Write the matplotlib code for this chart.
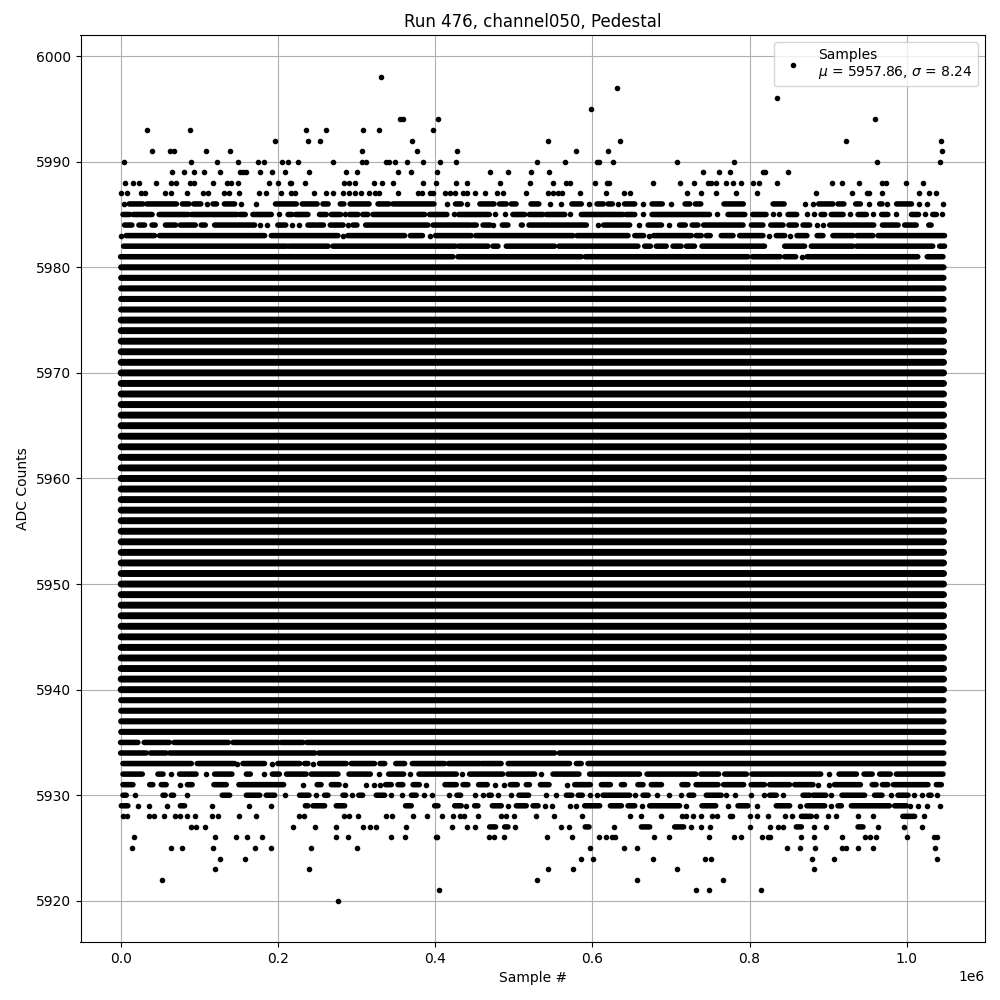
import matplotlib
matplotlib.use("Agg")
import matplotlib.pyplot as plt

TITLE = "Run 476, channel050, Pedestal"
XLABEL = "Sample #"
YLABEL = "ADC Counts"
LEGEND_LABEL = "Samples\n$\\mu$ = 5957.86, $\\sigma$ = 8.24"

# Each row: sample positions in thousands; a tuple is a stretch of samples too dense to separate.
row_5998 = [331]
row_5997 = [631.4]
row_5996 = [835]
row_5995 = [598]
row_5994 = [355, 359, 404, 959.6]
row_5993 = [33.5, 88, 236, 261, 308, 329, 397]
row_5992 = [196, 238, 254, 371, 544, 635, 923, 1043.5]
row_5991 = [40, 63, 67.5, 109, 139, 307, 377, 428, 579, 620, 1045]
row_5990 = [4, 90, 123, 149, 175, 182, 205, 213, 226, 270, 307, 312, 338, 342, 349, 364, 385, 406, 427,
            530, 565, 606, 609, 626, 708, 780, 962, 1042]
row_5989 = [65, 81, 93, 106, 126, 152, 156, 160, 177, 193, 209, 240, 287, 301, 353, 369, 402, 470, 493,
            522, 545, 741, 761, 775, 817, 820, 849]
row_5988 = [5.5, 16, 23.3, 45, 64, 70.4, 88, 93, 117.5, 135, 140, 149, 189, 200, 215, 217, 234.5, 284, 290.5,
            298, 322, 332.5, 346.5, 385, 401, 427, 441, 483, 521, 550, 566.5, 571.6, 603, 619, 621, 677, 711.5,
            729, 747, 751, 757, 770, 779, 789, 804, 812, 835, 905, 918, 939, 968, 974, 999, 1021]
row_5987 = [0.5, 8, 26, 31, 56.5, 64, 84, 105, 111, 132, 138, 151, 176, 184.5, 204, 217, 222, 246, 261, 270,
            283, 291, 298, 306, 316, 324, 329, 353, 378, 383, 393, 397, 413, 419, 425, 436, 440, 451, 463, 479,
            486, 516, 544, 550, 556, 561, 584, 617, 640, 648, 720, 738, 757, 783, 809.5, 884.5, 930, 949, 952,
            968, 1015.5, 1028, 1037.6]
row_5986 = [4, (11, 28.4), (33.5, 71), (78.5, 87), (93, 102), 110, (117.5, 122), (132, 145), 153, 172,
            (197, 223.5), (231, 250), (257.4, 264), (279.4, 284), (292, 316), (327.4, 341.3), (346.4, 398.6), 415,
            (426, 433.3), 440, (457, 475), (482, 490.6), (497, 503), (522, 532), 546, 560, (574, 586), 596,
            (606, 614), (620, 625.5), 633, (641, 654), 664, (676, 689), 700, (718, 724), (731, 738), (767.5, 792),
            (830, 844), 870.5, 881, (888, 906), (912.5, 920), (935, 941), 952, (965.5, 968.5), 975, (987, 1006),
            1015.5, 1026, 1046]
row_5985 = [(3, 11.5), (16, 40), (49, 86), (90, 148), (151.5, 158.6), (168.3, 191.7), 201.4, (213, 218),
            (222.6, 238.3), (253, 261.6), (268, 280), 286, (291.3, 302), (308, 314.6), (321, 386.8), (393, 415),
            423.6, (430, 469), 476.6, 488.5, (499, 514), (520, 537), (541.5, 565), 571, (586, 639), (643, 654),
            664.5, (676, 749), 758, (772.6, 794), (804, 821), 830, 837, (849, 860), 873, 882, (891, 895.6),
            (904, 919), 928, (938, 948.6), 957, (968, 976), 986, (1006, 1015), 1023, (1033, 1037.6), 1045]
row_5984 = [(5, 14.4), (23.3, 30.5), (40, 44), (57, 70), (76, 95), (102.6, 107.7), (119.6, 170.5), 177.7, 186.6,
            (200, 210), 218, 227, (238.3, 258), (266.7, 283), 289, (295.5, 300.6), (311.7, 391), (397.3, 444.8),
            (448, 452.4), (461, 470), 473.6, (485.5, 492.7), (509.7, 511), (519.5, 592.4), 607, (614.4, 647.5), 659,
            (671, 688), 697, (711, 718.3), (727, 734.4), (741.6, 791.7), (802.3, 817), (827, 842.6), (850, 859.5),
            (868, 876.5), 885.8, 893.4, (902, 958), (969, 989), (997.3, 1012), (1028, 1031)]
row_5983 = [0, (7, 43.3), (49.6, 183.2), (191.7, 276.5), 283, (289, 361.3), (368.5, 384), 393, (400.7, 446),
            (451.6, 575.4), (580.5, 645.4), (654, 665.3), 672, (678, 726), (732, 738.7), (745, 750), (764, 779),
            (787.4, 817), 824.8, (834, 844.7), 852, (860.4, 873), (886, 893.4), (906, 931.6), (936.7, 957),
            (963.4, 1048)]
row_5982 = [(3.8, 211), (214.1, 264), (270, 426), (430, 467.3), (473.6, 480), (490.6, 552), (557.6, 658),
            (666.6, 674), (681.4, 694), (702.6, 713), (719.6, 730), (739.5, 819), (844.7, 870), (878.6, 931.6),
            (936, 1033), (1041.8, 1048)]
row_5981 = [(0, 422.7), (429, 586), (591, 798), (803.6, 839), (844.7, 858.7), 867, (873, 1014), (1026, 1046)]

# Rows that are continuous from the first sample to the last.
edge_rows = [5980, 5979, 5978, 5977, 5976, 5939, 5938, 5937, 5936]
core_rows = [5975, 5974, 5973, 5972, 5971, 5970, 5969, 5968, 5967, 5966,
             5965, 5964, 5963, 5962, 5961, 5960, 5959, 5958, 5957, 5956, 5955, 5954, 5953, 5952, 5951,
             5950, 5949, 5948, 5947, 5946, 5945, 5944, 5943, 5942, 5941, 5940]
solid_first = 0.7
solid_last = 1046.8

row_5935 = [(0, 22), (30, 62), (68, 137), (143, 200), (204, 232), (237, 1047)]
row_5934 = [(0, 32.7), (38, 58), (62.4, 247), (252, 552), (558, 1047)]
row_5933 = [(3, 90), (97.5, 145), 148, (155.6, 183), 192, (200, 228), (234, 238.3), 245, (253, 287), (293.4, 323),
            (330, 336), (350, 361.3), (371, 412), (417, 457), (459, 484), (493, 571), (579.7, 586), (594.5, 1047)]
row_5932 = [(3, 27.6), (47.5, 54), 64, (75, 96), 108, (119.6, 141.6), (160, 165), 183, (193, 202), (211, 236),
            (242.5, 276.5), (290.5, 317.6), 328.6, (341, 360), 368.5, (379.5, 427), 434.6, (444, 486), (492.7, 526.7),
            535, (550, 583), (596.6, 660), (669.6, 731.5), (738, 760.7), (768.4, 796), (803, 890.5), 901,
            (913.8, 936), (945.6, 956), (965.5, 979), (986.7, 1046)]
row_5931 = [(3, 15.7), (37, 41), (51.7, 58), 75, (85, 91), (118.7, 134.4), (150.5, 207.4), 232.4, (250, 255),
            (268, 278), 285.4, 312, 322, 329.5, (337, 344.3), (352.8, 359), (372, 380), 388.8, (412.6, 427),
            (435.5, 441.8), (455.4, 466.4), 476.6, 488, (495.7, 504.6), (516, 520), (534, 545), 568, (577.6, 597.5),
            (611.5, 623), (637, 641), (658, 664.5), (675, 688), (714, 721.7), (732, 760), (767, 792.5), (802, 819),
            (825.6, 851), (857.4, 880.7), 887, 901, (908, 941), (956, 961), (969, 976), (983, 1027), (1037.6, 1044)]
row_5930 = [(3, 7.2), 18.7, (53.9, 56.8), (64.5, 67.4), 84.4, (129.3, 138.7), (160, 177), (185.3, 196), 209,
            (227.7, 239.6), 249, (259.5, 263.7), (282.8, 286.2), 294.3, (303, 308), (325.2, 335.8), 344.3, 358,
            (370, 376), 385.9, 396, 417.6, (427.8, 432.5), 450.7, 461, (468.5, 471.5), 480.4, 497, (506.7, 519),
            541.5, 554, (567, 574), (582, 587.3), 597.5, 606, (613.6, 647.5), 654, (664.5, 671), 682, 697.5, 713,
            (723, 729), (745, 764), 770.5, 782, 802, 818.4, (825.6, 834), 842.6, (868, 876.5), (880.7, 897), 904,
            (917.6, 946.4), (959, 968.5), 980, (988.8, 1001.6), 1009.6, 1019.8, (1028, 1031), 1038.4]
row_5929 = [(0.9, 9.3), 22, 36, 59, (76, 81.4), 116, 163.3, 191.2, (235, 238.3), (244.7, 259.5), (274.3, 285),
            (362.5, 369.7), (399.4, 403.7), (425, 433.3), 439.7, (450.3, 454.5), (472.8, 484.2), 493.1, (503.3, 516),
            (524.6, 531), 540, 548.7, 571, 578.8, (590.3, 609.4), (623, 637), (645.4, 654), 663, (673, 711), 719.6,
            (739.5, 757), 772.6, (785.3, 798), 809.5, (834, 851), 863.8, (873, 895.6), 904, (912.5, 916.8),
            (929.5, 978), (984.6, 999.4), 1004.5, 1014.3, 1025.7, 1042.3]
row_5928 = [3, 8.5, 36, 43, 54.7, 69.6, 76, 84.4, 95, 116, 124, 150.5, 172, 226.9, 232.8, 284, 290.5, 302, 337.5,
            345, 372, 389.7, 408.7, 422.7, 431.2, 436.3, 455, 484.2, 490.6, 500.4, 528.8, 551.3, 586.9, 648, 662.4,
            687.4, 714, 719.6, 728, 738.7, 752.7, 758.6, 774.7, 778, 800.6, 809.5, 823.5, 845, 854, (866, 878.6), 885,
            899.8, 910.4, 938.4, 957, (995, 1010), 1021.5]
row_5927 = [90, 96, 107, 219, 247, 274, 308.3, 317.2, 324.8, 363, 421.5, 440.6, 451, (469.4, 477), (488.5, 492.7),
            501.2, 560.2, 570.4, (591, 595.8), 627.6, (662.4, 673), (704.8, 716.2), 726, 738.3, 749.3, 801, 826, 836.2,
            842.6, (859.5, 865.9), 882, 897.3, (938, 944.3), 963.4, 996.5, 1019.4]
row_5926 = [17, 120, 146.7, 160.7, 179.8, 274, 289, 344, 361.7, 401, 403, 468.6, 475, 487.6, 542.4, 574, 608.5,
            617.8, 625, 628.4, 678.5, 697.6, 748.4, 780, 789, 815.8, 823.5, 826.4, 865.5, 882, 917.6, 946.9, 952.8,
            961.3, 1000.3, 1034.6, 1038.4]
row_5925 = [14.4, 64, 78, 117.5, 171, 191.2, 242, 300.6, 597, 640.7, 656.8, 847.6, 864.2, 883.3, 917.6, 923, 938,
            957.5, 1035.9]
row_5924 = [126.4, 158.2, 585.6, 600.9, 677, 743.3, 751, 879.4, 907.4, 1038.4]
row_5923 = [120, 239.6, 543.6, 575.4, 707.7, 882]
row_5922 = [52.6, 529.6, 656.8, 766.2]
row_5921 = [405, 731.9, 748.4, 814.6]
row_5920 = [276.5]

rows = {5998: row_5998, 5997: row_5997, 5996: row_5996, 5995: row_5995, 5994: row_5994, 5993: row_5993,
        5992: row_5992, 5991: row_5991, 5990: row_5990, 5989: row_5989, 5988: row_5988, 5987: row_5987,
        5986: row_5986, 5985: row_5985, 5984: row_5984, 5983: row_5983, 5982: row_5982, 5981: row_5981,
        5935: row_5935, 5934: row_5934, 5933: row_5933, 5932: row_5932, 5931: row_5931, 5930: row_5930,
        5929: row_5929, 5928: row_5928, 5927: row_5927, 5926: row_5926, 5925: row_5925, 5924: row_5924,
        5923: row_5923, 5922: row_5922, 5921: row_5921, 5920: row_5920}

px, py, ly, lx0, lx1 = [], [], [], [], []
for level, entries in rows.items():
    for e in entries:
        if isinstance(e, tuple):
            ly.append(level); lx0.append(e[0] * 1000); lx1.append(e[1] * 1000)
        else:
            px.append(e * 1000); py.append(level)

fig, ax = plt.subplots(figsize=(10, 10), dpi=100)
core = ax.hlines(core_rows, solid_first * 1000, solid_last * 1000, colors="black", linewidth=5.0,
                 capstyle="round", zorder=2)
edge = ax.hlines(edge_rows, solid_first * 1000, solid_last * 1000, colors="black", linewidth=4.4,
                 capstyle="round", zorder=2)
runs = ax.hlines(ly, lx0, lx1, colors="black", linewidth=4.0, capstyle="round", zorder=2)
for coll in (core, edge, runs):
    coll.set_snap(False)
ax.plot(px, py, "k.", label=LEGEND_LABEL, zorder=2)

ax.set_xlim(-51000, 1099500)
ax.set_ylim(5916.1, 6002.0)
ax.grid(True)
ax.set_title(TITLE)
ax.set_xlabel(XLABEL)
ax.set_ylabel(YLABEL)
ax.legend(loc="upper right")
fig.subplots_adjust(left=0.0805, right=0.985, bottom=0.058, top=0.965)
fig.savefig("out.png", dpi=100)
